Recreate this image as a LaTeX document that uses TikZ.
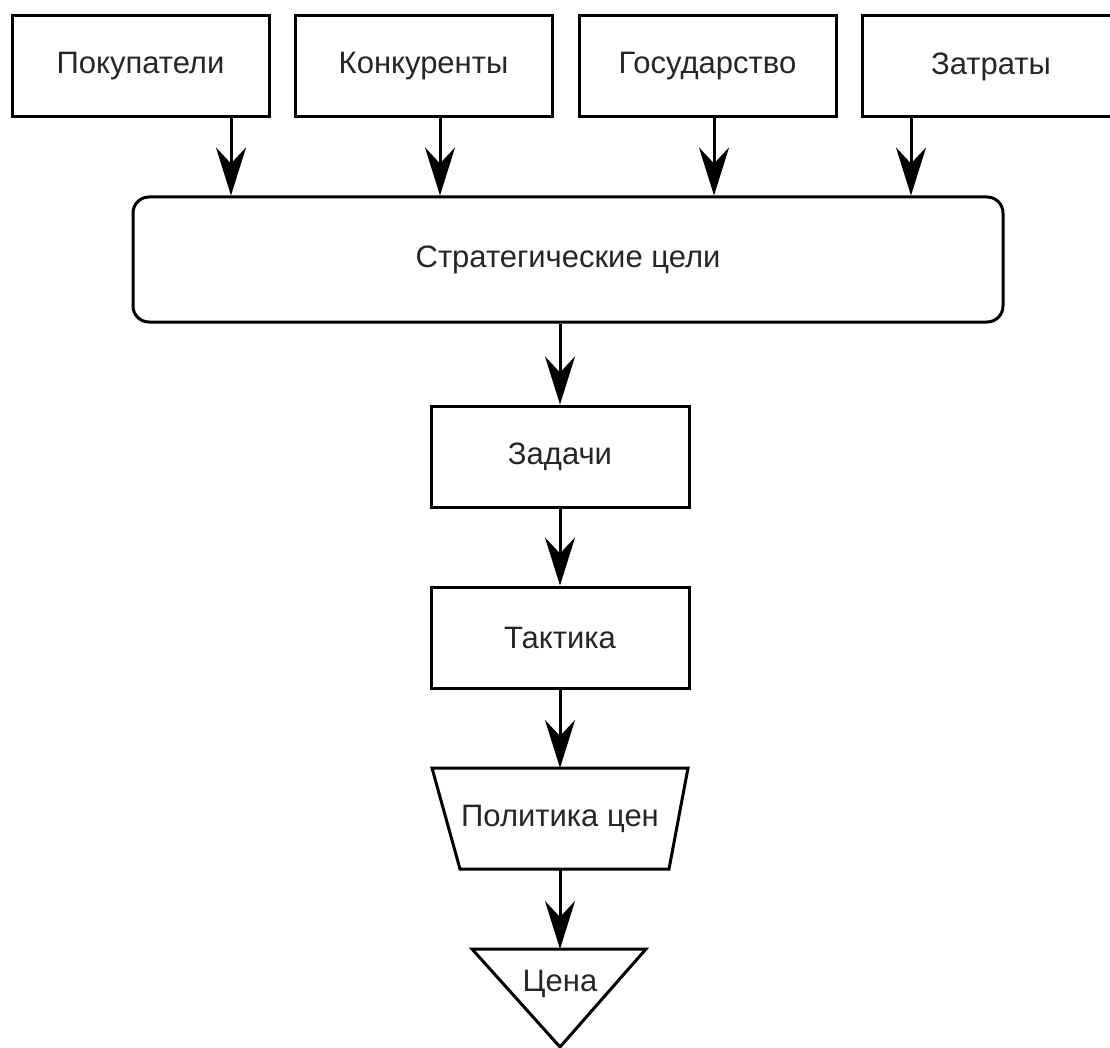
\documentclass[tikz,border=0pt]{standalone}
\usepackage{fontspec}
\setmainfont{Liberation Sans}
\usetikzlibrary{arrows.meta}

\begin{document}
\begin{tikzpicture}[x=1pt,y=-1pt,
    box/.style={draw,line width=3pt,minimum width=257pt,minimum height=101pt,inner sep=0pt,
      text=black!85,font=\fontsize{31}{36}\selectfont},
    txt/.style={text=black!85,font=\fontsize{31}{36}\selectfont},
    arr/.style={line width=3pt,-{Stealth[length=48pt,width=30pt,inset=16pt]}}]
  \useasboundingbox (0,0) rectangle (1110,1048);
  \node[box] (pok) at (140.5,66.5) {Покупатели};
  \node[box] (kon) at (423.5,66.5) {Конкуренты};
  \node[box] (gos) at (707.5,66.5) {Государство};
  \node[box] (zat) at (991,66.5) {Затраты};
  \node[box,rounded corners=16pt,minimum width=870pt,minimum height=125pt] (cel) at (568,259.5) {Стратегические цели};
  \node[box,minimum width=258pt] (zad) at (560,456.5) {Задачи};
  \node[box,minimum width=258pt] (tak) at (560,637.5) {Тактика};
  % price policy and price
  \draw[line width=3pt] (432,768) coordinate (poltop) -- (688,768) -- (669,869) -- (460,869) -- cycle;
  \coordinate (polbot) at (560,869);
  \node[txt] (pol) at (560,819) {Политика цен};
  \draw[line width=3pt,line join=miter] (472,949) coordinate (cenatop) -- (646,949) -- (560,1047) -- cycle;
  \node[txt] (cena) at (560,984) {Цена};
  % inputs into the goals
  \foreach \n/\x in {pok/231,kon/440,gos/714,zat/911} {
    \coordinate (p\n) at (\x,0);
    \draw[arr] (\n.south -| p\n) -- (cel.north -| p\n);
  }
  \draw[arr] (cel.south -| zad) -- (zad);
  \draw[arr] (zad) -- (tak);
  \draw[arr] (tak) -- (poltop -| tak);
  \draw[arr] (polbot) -- (cenatop -| cena);
\end{tikzpicture}
\end{document}
